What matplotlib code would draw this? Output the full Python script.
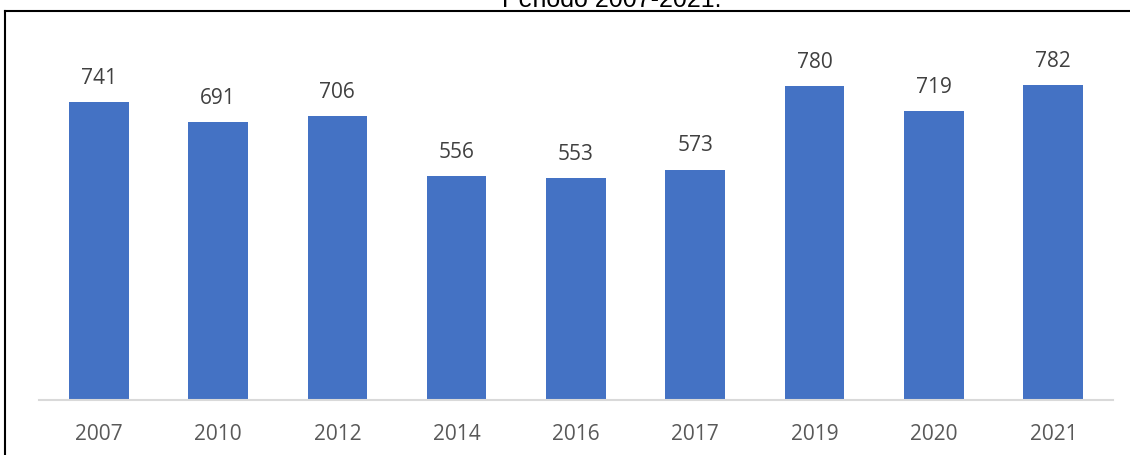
import matplotlib
matplotlib.use("Agg")
import matplotlib.pyplot as plt
from matplotlib.lines import Line2D

years = ["2007", "2010", "2012", "2014", "2016", "2017", "2019", "2020", "2021"]
values = [741, 691, 706, 556, 553, 573, 780, 719, 782]
title = "Periodo 2007-2021."

W, H = 1130, 455
fig = plt.figure(figsize=(W / 100, H / 100), dpi=100)
ax = fig.add_axes([39 / W, 1 - 400 / H, (1113 - 39) / W, 390 / H])

x = range(len(years))
ax.bar(x, values, width=0.5, color="#4472c4")
ax.set_xlim(-0.5, len(years) - 0.5)
ax.set_ylim(0, 390 / 0.4022)

for xi, v in zip(x, values):
    ax.annotate(str(v), (xi, v), xytext=(0, 13), textcoords="offset points",
                ha="center", va="baseline", fontsize=15, color="#404040",
                family="Open Sans")

ax.set_xticks(list(x))
ax.set_xticklabels(years, fontsize=15, color="#595959", family="Open Sans")
ax.tick_params(axis="x", length=0, pad=17)
ax.set_yticks([])
for s in ["top", "right", "left"]:
    ax.spines[s].set_visible(False)
ax.spines["bottom"].set_color("#d9d9d9")
ax.spines["bottom"].set_linewidth(1.5)

# outer frame (partly cut off by the crop)
top = 1 - 10.5 / H
left = 4.5 / W
fig.add_artist(Line2D([left, left], [-0.01, top], transform=fig.transFigure,
                      color="black", lw=1.5))
fig.add_artist(Line2D([left, 1.01], [top, top], transform=fig.transFigure,
                      color="black", lw=1.5))

# title sits mostly above the visible area, as in the source crop
fig.text(612 / W, 1 - 7 / H, title, ha="center", va="baseline",
         fontsize=18, family="Liberation Sans", color="black")

fig.savefig("out.png", dpi=100)
